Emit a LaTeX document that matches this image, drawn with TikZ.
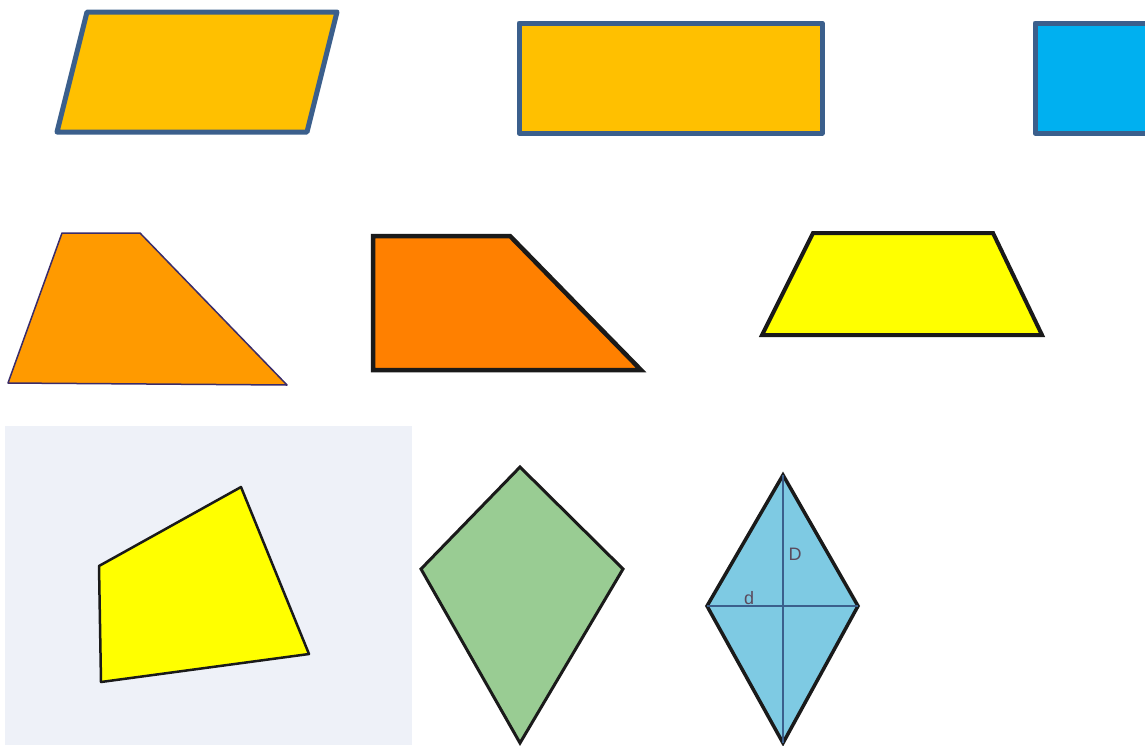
\documentclass[tikz,border=0pt]{standalone}
\usepackage{fontspec}
\setmainfont{Liberation Sans}
\usetikzlibrary{calc}
\definecolor{frame}{HTML}{3B5F8C}
\definecolor{amber}{HTML}{FFC000}
\definecolor{sky}{HTML}{00B0F0}
\definecolor{tangerine}{HTML}{FF9A00}
\definecolor{deeporange}{HTML}{FF8000}
\definecolor{lemon}{HTML}{FFFF00}
\definecolor{paper}{HTML}{EEF1F8}
\definecolor{sage}{HTML}{99CC93}
\definecolor{aqua}{HTML}{7ECAE3}
\definecolor{edge}{HTML}{1A1A1A}
\definecolor{violet}{HTML}{3A2C6A}
\definecolor{labelink}{HTML}{5A4A5C}
\newcommand{\lab}{\fontsize{18}{20}\selectfont}

\begin{document}
\begin{tikzpicture}[x=1pt,y=-1pt,line join=round]
\useasboundingbox (0,0) rectangle (1145,745);
% row 1
\filldraw[fill=amber,draw=frame,line width=5pt] (87,12) -- (337,12) -- (307,132) -- (57,132) -- cycle;
\filldraw[fill=amber,draw=frame,line width=5pt] (519,23) rectangle (822,133);
\filldraw[fill=sky,draw=frame,line width=5pt] (1035,23) rectangle (1160,133);
% row 2
\filldraw[fill=tangerine,draw=violet,line width=1.5pt] (62,233) -- (140,233) -- (287,385) -- (8,383) -- cycle;
\filldraw[fill=deeporange,draw=edge,line width=4.5pt,line join=miter] (373,236) -- (510,236) -- (641,370) -- (373,370) -- cycle;
\filldraw[fill=lemon,draw=edge,line width=4pt,line join=miter] (813,233) -- (993,233) -- (1042,335) -- (762,335) -- cycle;
% row 3
\fill[paper] (5,426) rectangle (412,745);
\filldraw[fill=lemon,draw=edge,line width=2.5pt] (99,566) -- (241,487) -- (309,654) -- (101,682) -- cycle;
\filldraw[fill=sage,draw=edge,line width=3pt,line join=miter] (520,467) -- (623,569) -- (520,743) -- (421,569) -- cycle;
\coordinate (rtop) at (783,475);
\coordinate (rright) at (858,606);
\coordinate (rbot) at (783,743);
\coordinate (rleft) at (707,606);
\filldraw[fill=aqua,draw=edge,line width=3.5pt,line join=miter] (rtop) -- (rright) -- (rbot) -- (rleft) -- cycle;
\draw[frame,line width=2.5pt] (rtop) -- (rbot);
\draw[frame,line width=2.5pt] (rleft) -- (rright);
\node[inner sep=0,text=labelink,font=\lab] (bigD) at (795,554) {D};
\node[inner sep=0,text=labelink,font=\lab] (smalld) at (749,598) {d};
\end{tikzpicture}
\end{document}
